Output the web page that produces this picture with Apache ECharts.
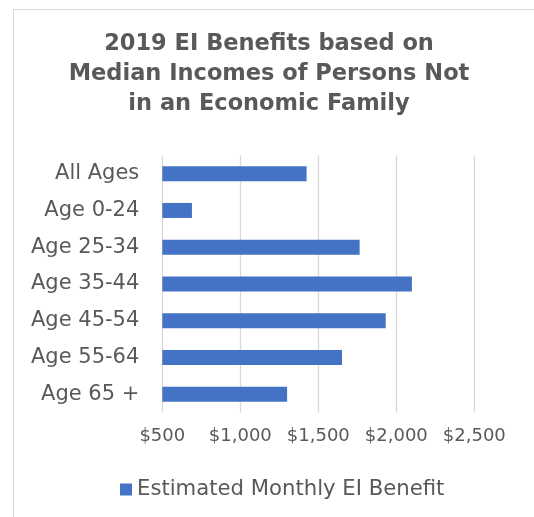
<!DOCTYPE html>
<html>
<head>
<meta charset="utf-8">
<script src="https://cdn.jsdelivr.net/npm/echarts@6/dist/echarts.min.js"></script>
<style>html,body{margin:0;padding:0;background:#fff;}#c{width:534px;height:517px;}</style>
</head>
<body>
<div id="c"></div>
<script>
const titleText = "2019 EI Benefits based on\nMedian Incomes of Persons Not\nin an Economic Family";
const categories = ["All Ages", "Age 0-24", "Age 25-34", "Age 35-44", "Age 45-54", "Age 55-64", "Age 65 +"];
const benefitValues = [1425, 690, 1765, 2100, 1932, 1652, 1300];
const seriesName = "Estimated Monthly EI Benefit";
const xMin = 500, xMax = 2500, xStep = 500;

const chart = echarts.init(document.getElementById('c'), null, {renderer: 'canvas'});
chart.setOption({
  animation: false,
  backgroundColor: '#fff',
  graphic: [{
    type: 'rect', shape: {x: 13.5, y: 9.5, width: 540, height: 520},
    style: {fill: 'none', stroke: '#d9d9d9', lineWidth: 1}, silent: true, z: -1
  }],
  title: {
    text: titleText, left: 264, top: 24, textAlign: 'center',
    textStyle: {fontFamily: 'DejaVu Sans', fontWeight: 'bold', fontSize: 22.5, lineHeight: 30, color: '#595959'}
  },
  legend: {
    data: [seriesName], left: 120, top: 479, padding: 0, itemWidth: 12, itemHeight: 12, itemGap: 6,
    icon: 'rect',
    textStyle: {fontFamily: 'DejaVu Sans', fontSize: 21.2, color: '#595959', padding: [0,0,0,0]}
  },
  grid: {left: 162.3, right: 59.7, top: 155.3, bottom: 104.3, containLabel: false},
  xAxis: {
    type: 'value', min: xMin, max: xMax, interval: xStep,
    axisLine: {show: false}, axisTick: {show: false},
    splitLine: {show: true, lineStyle: {color: '#d9d9d9', width: 1.3}},
    axisLabel: {
      margin: 15, fontFamily: 'DejaVu Sans', fontSize: 18, color: '#595959',
      formatter: v => '$' + v.toLocaleString('en-US')
    }
  },
  yAxis: {
    type: 'category', data: categories, inverse: true,
    axisLine: {show: false}, axisTick: {show: false},
    axisLabel: {margin: 23, fontFamily: 'DejaVu Sans', fontSize: 21, color: '#595959'}
  },
  series: [{
    name: seriesName, type: 'bar', data: benefitValues, barWidth: 15,
    itemStyle: {color: '#4472C4'}
  }]
});
</script>
</body>
</html>
